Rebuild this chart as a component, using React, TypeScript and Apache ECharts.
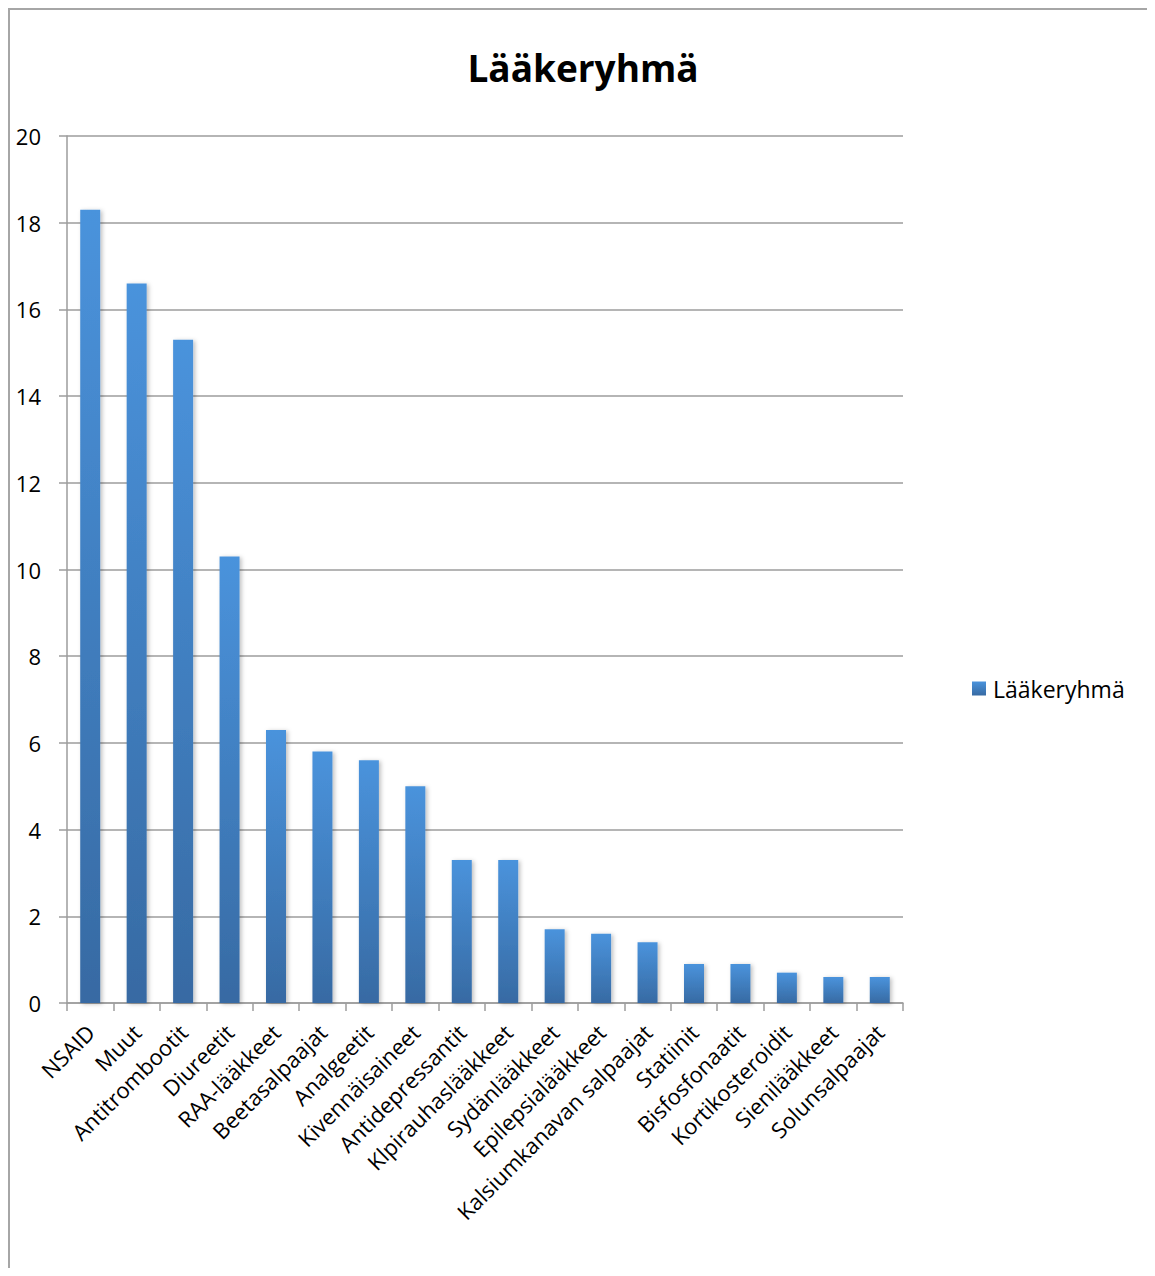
import React, { useEffect, useRef } from "react";
import * as echarts from "echarts";

const categories = [
  "NSAID",
  "Muut",
  "Antitrombootit",
  "Diureetit",
  "RAA-lääkkeet",
  "Beetasalpaajat",
  "Analgeetit",
  "Kivennäisaineet",
  "Antidepressantit",
  "Klpirauhaslääkkeet",
  "Sydänlääkkeet",
  "Epilepsialääkkeet",
  "Kalsiumkanavan salpaajat",
  "Statiinit",
  "Bisfosfonaatit",
  "Kortikosteroidit",
  "Sienilääkkeet",
  "Solunsalpaajat",
];

const values = [18.3, 16.6, 15.3, 10.3, 6.3, 5.8, 5.6, 5.0, 3.3, 3.3, 1.7, 1.6, 1.4, 0.9, 0.9, 0.7, 0.6, 0.6];

const seriesName = "Lääkeryhmä";
const titleText = "Lääkeryhmä";

const FONT = "'Open Sans', sans-serif";

export default function App() {
  const ref = useRef<HTMLDivElement>(null);

  useEffect(() => {
    if (!ref.current) return;
    document.body.style.overflow = "hidden";
    const chart = echarts.init(ref.current, undefined, { renderer: "svg" });
    const barGrad = new echarts.graphic.LinearGradient(0, 0, 0, 1, [
      { offset: 0, color: "#4a93dc" },
      { offset: 1, color: "#376aa3" },
    ]);
    const legendGrad = new echarts.graphic.LinearGradient(0, 0, 0, 1, [
      { offset: 0, color: "#4a93dc" },
      { offset: 1, color: "#376aa3" },
    ]);
    chart.setOption({
      animation: false,
      backgroundColor: "#ffffff",
      title: {
        text: titleText,
        left: 568,
        textAlign: "center",
        top: 34,
        textStyle: { fontFamily: FONT, fontWeight: "bold", fontSize: 37, color: "#000" },
      },
      legend: {
        data: [{ name: seriesName, itemStyle: { color: legendGrad } }],
        left: 957,
        top: 662,
        itemWidth: 14,
        itemHeight: 14,
        itemGap: 8,
        icon: "rect",
        textStyle: { fontFamily: FONT, fontSize: 23, color: "#000", padding: [0, 0, 0, 2] },
      },
      grid: { left: 57, right: 252, top: 126, bottom: 265, containLabel: false },
      xAxis: {
        type: "category",
        data: categories,
        boundaryGap: true,
        axisLine: { show: true, lineStyle: { color: "#9d9d9d", width: 1.5 } },
        axisTick: { show: true, length: 8, alignWithLabel: false, lineStyle: { color: "#9d9d9d", width: 1.5 } },
        axisLabel: {
          interval: 0,
          rotate: 45,
          margin: 25,
          fontFamily: FONT,
          fontSize: 22,
          color: "#000",
        },
        splitLine: { show: false },
      },
      yAxis: {
        type: "value",
        min: 0,
        max: 20,
        interval: 2,
        axisLine: { show: true, lineStyle: { color: "#9d9d9d", width: 1.5 } },
        axisTick: { show: true, length: 8, lineStyle: { color: "#9d9d9d", width: 1.5 } },
        axisLabel: { fontFamily: FONT, fontSize: 22, color: "#000", margin: 26 },
        splitLine: { show: true, lineStyle: { color: "#9d9d9d", width: 1.5 } },
      },
      series: [
        {
          name: seriesName,
          type: "bar",
          data: values,
          barWidth: 20,
          itemStyle: {
            color: barGrad,
            shadowColor: "rgba(0,0,0,0.25)",
            shadowBlur: 4,
            shadowOffsetX: 2,
            shadowOffsetY: 1,
          },
        },
      ],
    });
    return () => chart.dispose();
  }, []);

  return (
    <div
      ref={ref}
      style={{
        width: 1147,
        height: 1260,
        boxSizing: "border-box",
        borderLeft: "2px solid #a6a6a6",
        borderTop: "2px solid #a6a6a6",
      }}
    />
  );
}
